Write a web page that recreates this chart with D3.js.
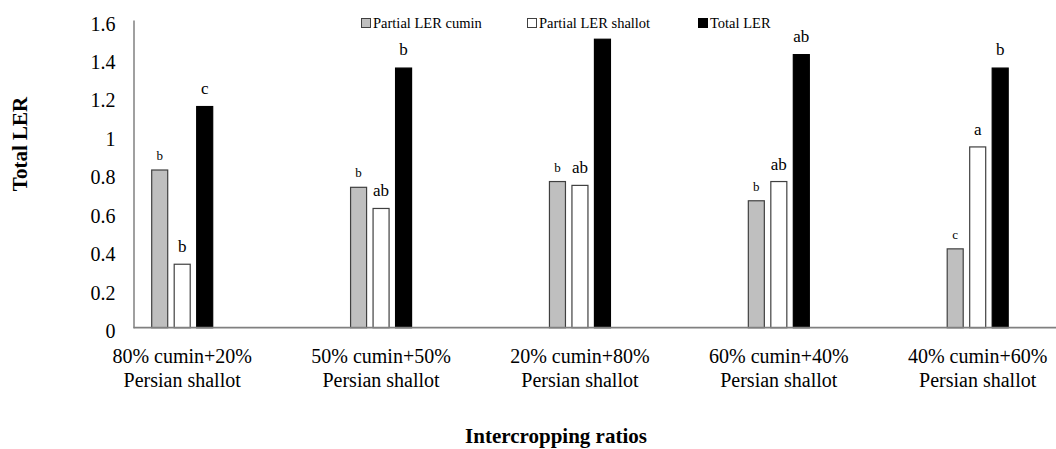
<!DOCTYPE html>
<html>
<head>
<meta charset="utf-8">
<script src="https://cdn.jsdelivr.net/npm/d3@7"></script>
<style>
  html, body { margin: 0; padding: 0; background: #fff; }
  svg { display: block; }
  svg text { font-family: "Liberation Serif", "Times New Roman", serif; }
</style>
</head>
<body>
<svg id="chart" width="1056" height="449"></svg>
<script>
// Intercropping ratios (two-line labels)
const categories = [
  ["80% cumin+20%", "Persian shallot"],
  ["50% cumin+50%", "Persian shallot"],
  ["20% cumin+80%", "Persian shallot"],
  ["60% cumin+40%", "Persian shallot"],
  ["40% cumin+60%", "Persian shallot"]
];
const seriesNames = ["Partial LER cumin", "Partial LER shallot", "Total LER"];
const cuminLER   = [0.82, 0.73, 0.76, 0.66, 0.41];
const shallotLER = [0.33, 0.62, 0.74, 0.76, 0.94];
const totalLER   = [1.15, 1.35, 1.50, 1.42, 1.35];
// Mean-separation letters
const cuminLetters   = ["b", "b", "b", "b", "c"];
const shallotLetters = ["b", "ab", "ab", "ab", "a"];
const totalLetters   = ["c", "b", "", "ab", "b"];
const yTicks = [0, 0.2, 0.4, 0.6, 0.8, 1, 1.2, 1.4, 1.6];

const SERIF = "'Liberation Serif', 'Times New Roman', serif";
const svg = d3.select("#chart");
const catKeys = categories.map(c => c.join(" "));
const valuesBySeries = [cuminLER, shallotLER, totalLER];
const lettersBySeries = [cuminLetters, shallotLetters, totalLetters];

const styles = [
  { fill: "#bfbfbf", stroke: "#404040", letterSize: 13, letterGap: 10 },
  { fill: "#ffffff", stroke: "#404040", letterSize: 17, letterGap: 12 },
  { fill: "#000000", stroke: "#000000", letterSize: 17, letterGap: 13 }
];

const axisLeft = 133.5, axisRight = 1056, plotTop = 20, plotBottom = 327.7;

const y = d3.scaleLinear().domain([0, 1.6]).range([plotBottom, plotTop]);
const x0 = d3.scalePoint().domain(catKeys).range([182.2, 977.7]);
const x1 = d3.scaleBand().domain(seriesNames).range([-31, 31]).paddingInner(0.244);

// Bars
const groups = svg.append("g").selectAll("g")
  .data(catKeys)
  .join("g")
  .attr("transform", d => `translate(${x0(d)},0)`);

groups.each(function(cat, ci) {
  const g = d3.select(this);
  seriesNames.forEach((s, si) => {
    const v = valuesBySeries[si][ci];
    const st = styles[si];
    g.append("rect")
      .attr("x", x1(s) + 0.5)
      .attr("y", y(v))
      .attr("width", x1.bandwidth() - 1)
      .attr("height", y(0) - y(v))
      .attr("fill", st.fill)
      .attr("stroke", st.stroke)
      .attr("stroke-width", 1.2);
    const letter = lettersBySeries[si][ci];
    if (letter) {
      g.append("text")
        .attr("x", x1(s) + x1.bandwidth() / 2)
        .attr("y", y(v) - st.letterGap)
        .attr("text-anchor", "middle")
        .attr("font-family", SERIF)
        .attr("font-size", st.letterSize)
        .attr("fill", "#000")
        .text(letter);
    }
  });
});

// Y axis: line and labels only
const yAxis = d3.axisLeft(y).tickValues(yTicks).tickSize(0).tickPadding(18)
  .tickFormat(d => d3.format("")(d));
const yG = svg.append("g").attr("transform", `translate(${axisLeft},0)`).call(yAxis)
  .attr("font-family", SERIF);
yG.select(".domain").attr("stroke", "#808080").attr("stroke-width", 1.5);
yG.selectAll(".tick text")
  .attr("font-family", SERIF)
  .attr("font-size", 20)
  .attr("fill", "#000")
  .attr("dy", "0.5em");

// X axis line
const xLine = d3.scaleLinear().domain([0, 1]).range([axisLeft, axisRight]);
svg.append("line")
  .attr("x1", xLine(0)).attr("x2", xLine(1))
  .attr("y1", y(0)).attr("y2", y(0))
  .attr("stroke", "#808080").attr("stroke-width", 1.8);

// Category labels
const catText = svg.append("g").selectAll("text")
  .data(categories)
  .join("text")
  .attr("text-anchor", "middle")
  .attr("font-family", SERIF)
  .attr("font-size", 20)
  .attr("fill", "#000");
catText.each(function(lines, i) {
  const t = d3.select(this);
  lines.forEach((line, li) => {
    t.append("tspan")
      .attr("x", x0(catKeys[i]))
      .attr("y", 363 + li * 24)
      .text(line);
  });
});

// Axis titles
svg.append("text")
  .attr("x", 556).attr("y", 443)
  .attr("text-anchor", "middle")
  .attr("font-family", SERIF)
  .attr("font-size", 21).attr("font-weight", "bold")
  .text("Intercropping ratios");

svg.append("text")
  .attr("transform", "translate(27,144) rotate(-90)")
  .attr("text-anchor", "middle")
  .attr("font-family", SERIF)
  .attr("font-size", 21).attr("font-weight", "bold")
  .text("Total LER");

// Legend
const legendX = [361, 527, 698];
const legend = svg.append("g").selectAll("g")
  .data(seriesNames)
  .join("g")
  .attr("transform", (d, i) => `translate(${legendX[i]},18)`);
legend.append("rect")
  .attr("x", 0.5).attr("y", 0.5)
  .attr("width", 9).attr("height", 9)
  .attr("fill", (d, i) => styles[i].fill)
  .attr("stroke", (d, i) => styles[i].stroke)
  .attr("stroke-width", 1);
legend.append("text")
  .attr("x", 12).attr("y", 9.5)
  .attr("font-family", SERIF)
  .attr("font-size", 14.5)
  .attr("fill", "#000")
  .text(d => d);
</script>
</body>
</html>
